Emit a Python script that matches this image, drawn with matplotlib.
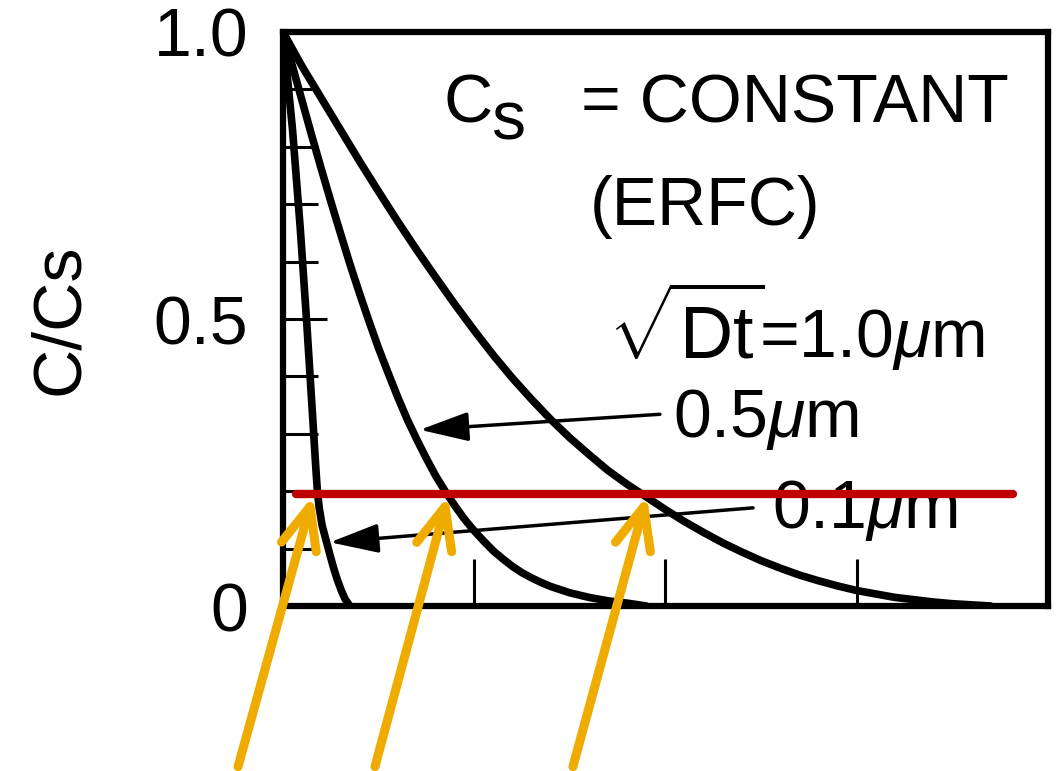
import matplotlib
matplotlib.use("Agg")
import matplotlib.pyplot as plt

plt.rcParams["font.family"] = ["Liberation Sans", "DejaVu Sans"]
plt.rcParams["mathtext.fontset"] = "custom"
plt.rcParams["mathtext.rm"] = "Liberation Sans"
plt.rcParams["mathtext.it"] = "Liberation Sans:italic"
plt.rcParams["mathtext.bf"] = "Liberation Sans:bold"

# ─────────────────────────────────────────────
# Profiles: depth (um) -> C/Cs
# ─────────────────────────────────────────────
# sqrt(Dt) = 1.0 um
x_10 = [0, 0.1, 0.2, 0.3, 0.4, 0.5, 0.6, 0.7, 0.8, 0.9, 1.0, 1.1, 1.2,
        1.3, 1.4, 1.5, 1.6, 1.7, 1.8, 1.9, 2.0, 2.1, 2.2, 2.3, 2.4, 2.5,
        2.6, 2.7, 2.8, 2.9, 3.0, 3.1, 3.2, 3.3, 3.4, 3.5, 3.6, 3.7]
c_10 = [1.0, 0.94, 0.885, 0.83, 0.775, 0.722, 0.67, 0.62, 0.572, 0.525,
        0.48, 0.437, 0.397, 0.36, 0.325, 0.293, 0.264, 0.236, 0.212, 0.19,
        0.168, 0.147, 0.128, 0.11, 0.094, 0.079, 0.066, 0.054, 0.044,
        0.035, 0.027, 0.021, 0.015, 0.011, 0.007, 0.004, 0.002, 0.0]

# sqrt(Dt) = 0.5 um
x_05 = [0, 0.05, 0.1, 0.15, 0.2, 0.25, 0.3, 0.35, 0.4, 0.45, 0.5, 0.55,
        0.6, 0.65, 0.7, 0.75, 0.8, 0.85, 0.9, 0.95, 1.0, 1.05, 1.1, 1.15,
        1.2, 1.25, 1.3, 1.35, 1.4, 1.5, 1.6, 1.7, 1.8, 1.9]
c_05 = [1.0, 0.94, 0.88, 0.82, 0.762, 0.705, 0.65, 0.596, 0.545, 0.496,
        0.449, 0.406, 0.364, 0.325, 0.29, 0.257, 0.226, 0.199, 0.174,
        0.151, 0.131, 0.113, 0.096, 0.082, 0.069, 0.058, 0.049, 0.041,
        0.034, 0.023, 0.015, 0.009, 0.005, 0.0]

# sqrt(Dt) = 0.1 um
x_01 = [0, 0.05, 0.09, 0.125, 0.157, 0.17, 0.18, 0.19, 0.205, 0.225,
        0.245, 0.265, 0.285, 0.305, 0.325, 0.35]
c_01 = [1.0, 0.83, 0.66, 0.49, 0.32, 0.25, 0.20, 0.17, 0.14, 0.115,
        0.09, 0.066, 0.045, 0.027, 0.012, 0.0]

# red threshold line
level = 0.195
level_x = [0.07, 3.82]

# orange arrows (tail below the axis -> crossing with the red line)
arrow_tail_x = [-0.235, 0.481, 1.516]
arrow_tail_y = -0.28
arrow_tip_x = [0.157, 0.863, 1.903]
arrow_tip_y = 0.192

FS = 49

fig = plt.figure(figsize=(10.57, 7.71), dpi=100)
ax = fig.add_axes([0.2677, 0.2140, 0.7237, 0.7445])

for xs, cs in [(x_10, c_10), (x_05, c_05), (x_01, c_01)]:
    ax.plot(xs, cs, color="black", lw=5.5,
            solid_capstyle="round", solid_joinstyle="round", zorder=2)

ax.set_xlim(0, 4)
ax.set_ylim(0, 1)

for sp in ax.spines.values():
    sp.set_linewidth(4.5)

ax.set_xticks([1, 2, 3])
ax.set_xticklabels([])
ax.tick_params(axis="x", direction="in", length=34, width=2.2)

ax.set_yticks([0, 0.5, 1.0])
ax.set_yticklabels(["0", "0.5", "1.0"])
ax.set_yticks([0.1, 0.2, 0.3, 0.4, 0.6, 0.7, 0.8, 0.9], minor=True)
ax.tick_params(axis="y", which="major", direction="in", length=32,
               width=2.2, pad=25, labelsize=FS)
ax.tick_params(axis="y", which="minor", direction="in", length=25, width=2.2)

ax.set_ylabel("C/Cs", fontsize=FS)
ax.yaxis.set_label_coords(-0.25, 0.5)

# ─────────────────────────────────────────────
# Labels inside the box
# ─────────────────────────────────────────────
ax.text(0.842, 0.843, "C", fontsize=FS, va="baseline", ha="left")
ax.text(1.088, 0.812, "s", fontsize=FS, va="baseline", ha="left")
ax.text(1.558, 0.843, "= CONSTANT", fontsize=FS, va="baseline", ha="left")
ax.text(2.207, 0.664, "(ERFC)", fontsize=FS, va="baseline", ha="center")

ax.text(1.70, 0.430, r"$\sqrt{\mathrm{Dt}}$", fontsize=FS + 4,
        va="baseline", ha="left")
ax.text(2.489, 0.434, r"=1.0$\mu$m", fontsize=FS, va="baseline", ha="left")
ax.text(2.04, 0.294, r"0.5$\mu$m", fontsize=FS, va="baseline", ha="left")
ax.text(2.557, 0.136, r"0.1$\mu$m", fontsize=FS, va="baseline", ha="left",
        zorder=3)

# leader arrows to the curves
for tip, tail in [((0.716, 0.307), (1.971, 0.334)),
                  ((0.246, 0.111), (2.458, 0.171))]:
    ax.annotate("", xy=tip, xytext=tail,
                arrowprops=dict(arrowstyle="-|>,head_length=30,head_width=9",
                                mutation_scale=1, lw=2.5, color="black",
                                shrinkA=0, shrinkB=0))

ax.plot(level_x, [level, level], color="#C00000", lw=6,
        solid_capstyle="round", zorder=4)

for tx, hx in zip(arrow_tail_x, arrow_tip_x):
    ax.annotate("", xy=(hx, arrow_tip_y), xytext=(tx, arrow_tail_y),
                arrowprops=dict(arrowstyle="->,head_length=30,head_width=13",
                                mutation_scale=1, lw=6.5, color="#F0AB00",
                                shrinkA=0, shrinkB=0,
                                capstyle="round", joinstyle="round"),
                annotation_clip=False, zorder=5)

fig.savefig("out.png", dpi=100)
